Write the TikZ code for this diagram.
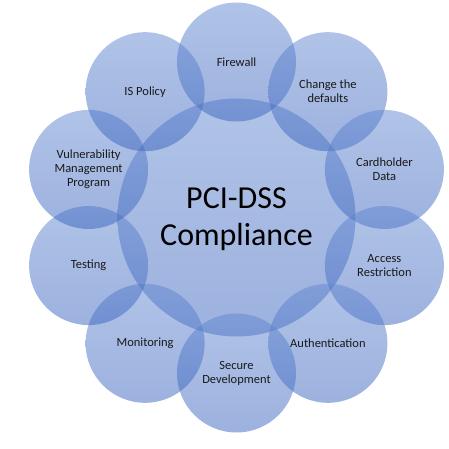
\documentclass[tikz,border=0pt]{standalone}
\usepackage{fontspec}
\setmainfont{Carlito}
\definecolor{ringtop}{RGB}{98,135,208}
\definecolor{ringbot}{RGB}{58,100,190}
\begin{document}
\begin{tikzpicture}[x=1pt,y=1pt,
  disc/.style={circle,minimum size=119pt,inner sep=0pt,top color=ringtop,bottom color=ringbot,fill opacity=0.5},
  lbl/.style={align=center,font=\fontsize{12.5}{14}\selectfont,text=black!90}]
\useasboundingbox (-236.5,-231.5) rectangle (211.5,217.5);
\node[disc,minimum size=238pt] (hub) at (0,0) {};
\foreach \i in {0,...,9}
\node[disc] (c\i) at (90-36*\i:155.5) {};
\foreach \i/\txt in {0/{Firewall},1/{Change the\\defaults},2/{Cardholder\\Data},3/{Access\\Restriction},4/{Authentication},5/{Secure\\Development},6/{Monitoring},7/{Testing},8/{Vulnerability\\Management\\Program},9/{IS Policy}}
\node[lbl] (t\i) at (c\i) {\txt};
\node[align=center,font=\fontsize{32}{37}\selectfont,anchor=center] (title) at ([yshift=-2pt]hub.center) {PCI-DSS\\Compliance};
\end{tikzpicture}
\end{document}
